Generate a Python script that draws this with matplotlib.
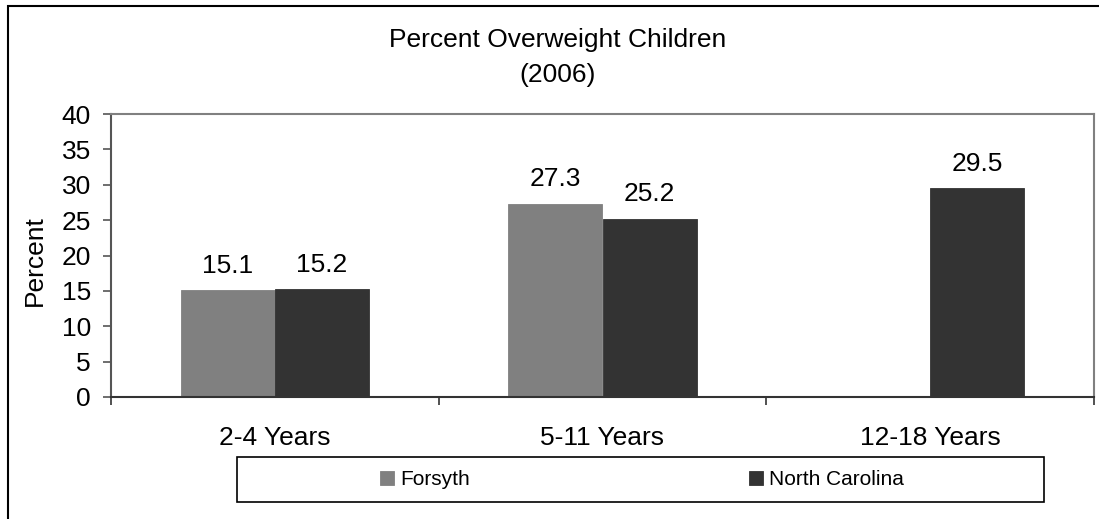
import numpy as np
import matplotlib
matplotlib.use('Agg')
import matplotlib.pyplot as plt
from matplotlib.patches import Rectangle

plt.rcParams['font.family'] = ['Liberation Sans', 'DejaVu Sans']

# 儿童超重比例 (2006)
categories = ['2-4 Years', '5-11 Years', '12-18 Years']
forsyth = [15.1, 27.3, np.nan]
north_carolina = [15.2, 25.2, 29.5]
series_names = ['Forsyth', 'North Carolina']
colors = ['#808080', '#333333']
y_ticks = [0, 5, 10, 15, 20, 25, 30, 35, 40]

fig = plt.figure(figsize=(10.99, 5.19), dpi=100)
ax = fig.add_axes([111 / 1099, 1 - 397 / 519, 983 / 1099, 283 / 519])

x = np.arange(len(categories))
w = 0.287
for vals, off, name, c in zip([forsyth, north_carolina], [-w / 2, w / 2], series_names, colors):
    ax.bar(x + off, vals, width=w, color=c, edgecolor=c, linewidth=0.6, label=name, zorder=2)
    for xi, v in zip(x + off, vals):
        if np.isnan(v):
            continue
        ax.annotate(f'{v:.1f}', (xi, v), xytext=(0, 9), textcoords='offset points',
                    ha='center', va='bottom', fontsize=19)

ax.set_xlim(-0.5, 2.5)
ax.set_ylim(0, 40)
ax.set_yticks(y_ticks)
ax.tick_params(axis='y', labelsize=19, length=6, width=1.2, color='#555555',
               direction='out', pad=8.5)

# 类别标签放在两个刻度之间
ax.set_xticks([-0.5, 0.5, 1.5, 2.5])
ax.set_xticklabels([])
ax.set_xticks(x, minor=True)
ax.set_xticklabels(categories, minor=True)
ax.tick_params(axis='x', which='major', length=6, width=1.2, color='#333333', direction='out')
ax.tick_params(axis='x', which='minor', length=0, labelsize=19, pad=21)

for s in ['top', 'right']:
    ax.spines[s].set_color('#808080')
    ax.spines[s].set_linewidth(1.5)
ax.spines['left'].set_color('#555555')
ax.spines['left'].set_linewidth(1.5)
ax.spines['bottom'].set_color('#333333')
ax.spines['bottom'].set_linewidth(1.5)

ax.set_ylabel('Percent', fontsize=19)
ax.yaxis.set_label_coords(-0.065, 0.482)

# 标题两行
fig.text(558 / 1099, 1 - 47 / 519, 'Percent Overweight Children',
         ha='center', va='baseline', fontsize=19)
fig.text(558 / 1099, 1 - 82 / 519, '(2006)',
         ha='center', va='baseline', fontsize=19)

# 图例
leg_box = Rectangle((237 / 1099, 1 - 502 / 519), 807 / 1099, 45 / 519,
                    transform=fig.transFigure, fill=False, edgecolor='black', lw=1.2)
fig.add_artist(leg_box)
fig.legend(loc='center', bbox_to_anchor=(642 / 1099, 1 - 479.5 / 519), ncol=2,
           frameon=False, fontsize=15, handlelength=0.67, handleheight=0.67,
           handletextpad=0.3, columnspacing=13.4)

# 外框
fig.add_artist(Rectangle((8 / 1099, -0.1), 1.2, 1 - 6 / 519 + 0.1,
                         transform=fig.transFigure, fill=False, edgecolor='black', lw=1.5))

fig.savefig('out.png', dpi=100)
